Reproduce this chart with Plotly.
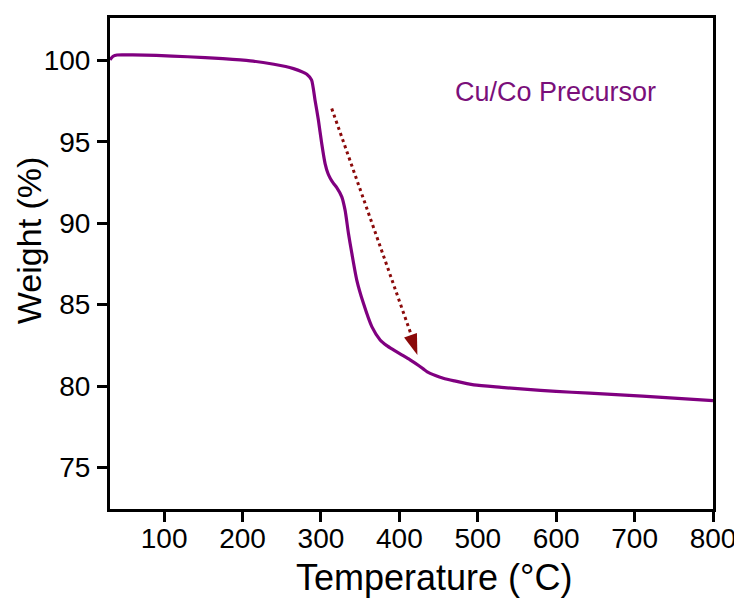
import plotly.graph_objects as go

# TGA curve of the Cu/Co precursor
temperature = [31, 35, 40, 60, 90, 130, 175, 210, 240, 255, 265, 275, 282, 288,
               292.5, 296.8, 301, 305.3, 309, 312, 316, 320, 326.6, 330.8, 335.1,
               339.4, 345.7, 354.2, 364.9, 375.5, 384, 392.5, 403, 413.7, 425,
               435, 446, 456, 470, 495, 530, 580, 620, 665, 710, 750, 800]
weight = [100.04, 100.25, 100.33, 100.33, 100.30, 100.22, 100.10, 99.97, 99.76,
          99.62, 99.49, 99.32, 99.15, 98.80, 97.55, 96.32, 94.89, 93.66, 93.05,
          92.75, 92.45, 92.20, 91.62, 90.80, 89.37, 88.15, 86.51, 85.08, 83.65,
          82.83, 82.48, 82.22, 81.92, 81.61, 81.25, 80.89, 80.65, 80.48, 80.32,
          80.07, 79.92, 79.73, 79.62, 79.50, 79.38, 79.26, 79.11]

# dotted arrow: start, base of head, tip
arrow_x = [313.8, 416.0, 423.0]
arrow_y = [97.04, 83.03, 81.9]

x_ticks = [100, 200, 300, 400, 500, 600, 700, 800]
y_ticks = [75, 80, 85, 90, 95, 100]

label_text = "Cu/Co Precursor"
x_title = "Temperature (°C)"
y_title = "Weight (%)"

FONT = "Liberation Sans, Arial, Helvetica, sans-serif"
PURPLE = "#800080"
DARKRED = "#8B0A0A"

fig = go.Figure()
fig.add_trace(go.Scatter(
    x=temperature, y=weight, mode="lines",
    line=dict(color=PURPLE, width=3.2, shape="spline", smoothing=0.6),
    showlegend=False, hoverinfo="skip"))

# dotted shaft
fig.add_trace(go.Scatter(
    x=arrow_x[:2], y=arrow_y[:2], mode="lines",
    line=dict(color=DARKRED, width=3, dash="3px,3.5px"),
    showlegend=False, hoverinfo="skip"))

# arrow head, oriented along the shaft
fig.add_trace(go.Scatter(
    x=arrow_x[:1] + arrow_x[2:], y=arrow_y[:1] + arrow_y[2:], mode="markers",
    marker=dict(symbol="arrow", size=[0, 22], color=DARKRED, opacity=1,
                angleref="previous", line=dict(width=0)),
    showlegend=False, hoverinfo="skip"))

fig.add_annotation(x=468, y=98.05, xref="x", yref="y", text=label_text,
                   showarrow=False, xanchor="left", yanchor="middle",
                   font=dict(family=FONT, size=27, color="#7A0F7A"))

# axis titles (placed as in the reference, slightly off-centre)
fig.add_annotation(x=0.537, y=-0.1395, xref="paper", yref="paper", text=x_title,
                   showarrow=False, xanchor="center", yanchor="middle",
                   font=dict(family=FONT, size=36, color="black"))
fig.add_annotation(x=-0.134, y=0.548, xref="paper", yref="paper", text=y_title,
                   textangle=-90, showarrow=False, xanchor="center", yanchor="middle",
                   font=dict(family=FONT, size=34, color="black"))

axis_common = dict(showline=True, linewidth=3, linecolor="black", mirror=True,
                   ticks="outside", ticklen=10, tickwidth=3, tickcolor="black",
                   showgrid=False, zeroline=False,
                   tickfont=dict(family=FONT, size=28, color="black"))

fig.update_xaxes(range=[31, 800], tickvals=x_ticks, ticklabelstandoff=-8,
                 **axis_common)
fig.update_yaxes(range=[72.45, 102.6], tickvals=y_ticks, ticklabelstandoff=1,
                 **axis_common)

# the page body has an 8px default margin, so the figure is 8px smaller
fig.update_layout(width=734, height=591,
                  margin=dict(l=102, r=29, t=10, b=90, autoexpand=False),
                  plot_bgcolor="white", paper_bgcolor="white")

fig.write_html("out.html")
